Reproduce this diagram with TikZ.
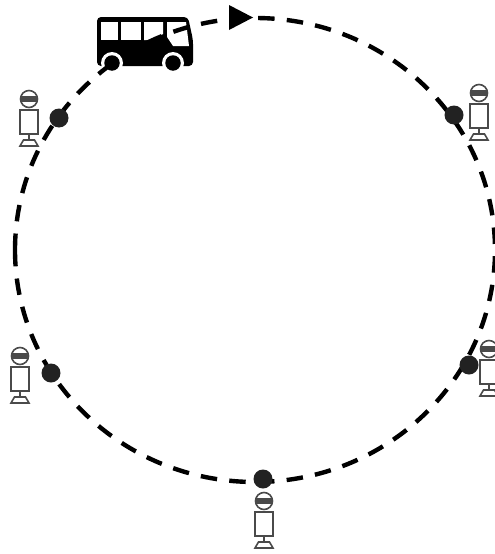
\documentclass[tikz,border=0pt]{standalone}
\usepackage{xcolor}
\usetikzlibrary{positioning,calc}
\definecolor{stopgray}{HTML}{4A4A4A}
\definecolor{dotblack}{HTML}{222222}

\begin{document}
\begin{tikzpicture}[
  x=1pt, y=-1pt,
  route/.style={draw=black, line width=4.4pt, dash pattern=on 16.5pt off 12.26pt},
  dot/.style={circle, fill=dotblack, inner sep=0pt, minimum size=19pt},
  wheel/.style={circle, fill=black, inner sep=0pt, minimum size=15.5pt},
  glass/.style={fill=white, draw=none},
  stopsign/.style={draw=stopgray, line width=1.6pt, fill=white},
  stopicon/.pic={
    \draw[stopsign] (-9,11) rectangle (9,35);
    \draw[stopsign] (0,35) -- (0,41);
    \draw[stopsign] (-5.5,41) -- (5.5,41) -- (9,47) -- (-9,47) -- cycle;
    \begin{scope}
      \clip (0,0) circle (8.5);
      \fill[stopgray] (-10,-3) rectangle (10,2.5);
    \end{scope}
    \draw[draw=stopgray, line width=1.6pt] (0,0) circle (8.5);
  }
]
\useasboundingbox (0,0) rectangle (495,554);

% bus
\fill[black, rounded corners=4pt] (97,17) -- (188,17) -- (193,40) -- (193,66) -- (97,66) -- cycle;
\fill[glass] (101,22) rectangle (118,40);
\fill[glass] (121,22) rectangle (141,40);
\fill[glass] (144,22) -- (163,22) -- (163,34) -- (153,40) -- (144,40) -- cycle;
\fill[glass] (167,22) -- (186,22) -- (189,46) -- (173,46) -- (167,37) -- cycle;
\fill[white] (112,63) circle (11);
\fill[white] (173,63) circle (11);
\node[wheel] (wheelrear) at (112,63) {};
\node[wheel] (wheelfront) at (173,63) {};

% line
\draw[route] (15,250) arc[start angle=180, end angle=540, x radius=240, y radius=232];
\fill[black] (229,5) -- (253,17.5) -- (229,30) -- cycle;

% stops
\node[dot] (dotnw) at (59,118) {};
\node[dot] (dotne) at (454,115) {};
\node[dot] (dotsw) at (51,373) {};
\node[dot] (dotse) at (469,365) {};
\node[dot] (dots) at (263,479) {};

\pic at (29,99) {stopicon};
\pic at (479,93) {stopicon};
\pic at (20,356) {stopicon};
\pic at (489,349) {stopicon};
\pic at (264,501) {stopicon};
\end{tikzpicture}
\end{document}
